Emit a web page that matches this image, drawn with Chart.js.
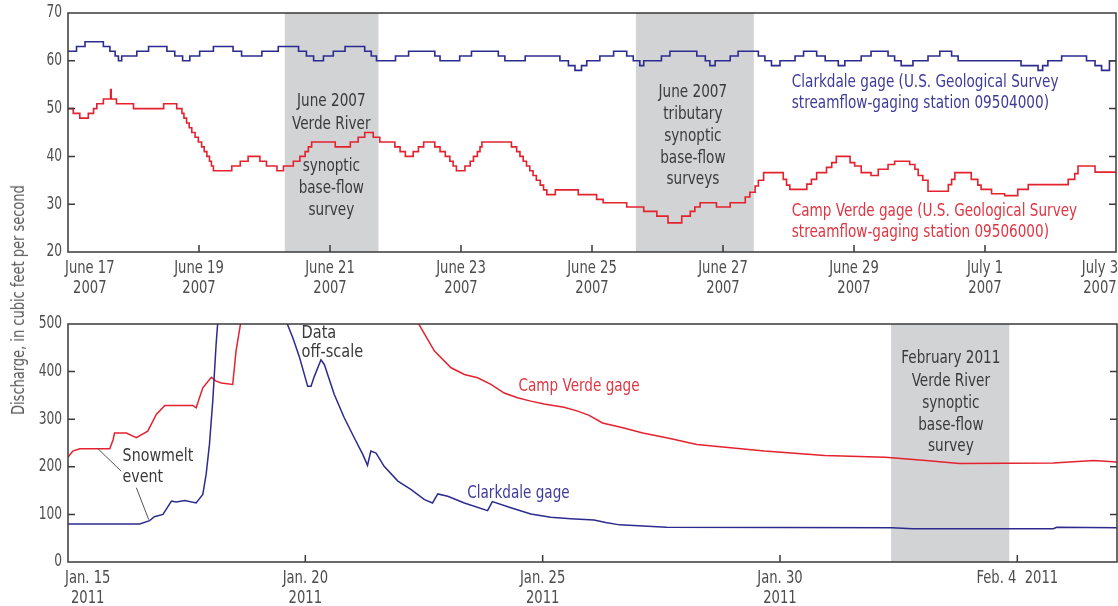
<!DOCTYPE html>
<html>
<head>
<meta charset="utf-8">
<script src="https://cdn.jsdelivr.net/npm/chart.js@4.4.0/dist/chart.umd.min.js"></script>
<style>
  body { margin: 0; background: #fff; }
  #wrap { position: relative; width: 1118px; height: 606px; }
  canvas { position: absolute; left: 0; }
  #ytitle {
    position: absolute; left: 18px; top: 300px;
    transform: translate(-50%, -50%) rotate(-90deg) scaleX(0.85);
    white-space: nowrap; color: #555;
    font: 17px "DejaVu Sans Condensed", sans-serif;
  }
</style>
</head>
<body>
<div id="wrap">
  <canvas id="top" width="1118" height="300" style="top:0"></canvas>
  <canvas id="bottom" width="1118" height="306" style="top:300px"></canvas>
  <div id="ytitle">Discharge, in cubic feet per second</div>
</div>
<script>
// days counted from June 17, 2007 00:00 (stepped gage record, cfs)
const clarkdale2007Day = [0,0.13,0.26,0.54,0.64,0.72,0.77,0.82,1.05,1.23,1.51,1.63,1.75,1.86,2.01,2.22,2.52,2.65,2.96,3.21,3.52,3.64,3.75,3.90,4.05,4.23,4.53,4.63,4.71,5.0,5.2,5.6,5.68,5.98,6.16,6.57,6.67,6.98,7.51,7.64,7.74,7.84,7.92,8.12,8.33,8.53,8.63,8.73,8.79,9.06,9.19,9.6,9.73,9.8,9.88,10.11,10.23,10.54,10.64,10.74,10.87,11.1,11.23,11.43,11.56,11.76,11.86,12.11,12.26,12.52,12.62,12.72,12.9,13.13,13.31,13.49,13.59,14.55,14.81,14.88,14.96,15.17,15.55,15.68,15.78,15.9,16.0];
const clarkdale2007Cfs = [62,63,64,63,62,61,60,61,62,63,62,61,60,61,62,63,62,61,62,63,62,61,60,61,62,63,62,61,60,61,62,61,60,61,62,61,60,61,60,59,58,59,60,61,62,61,60,59,60,61,62,61,60,59,60,61,62,61,60,59,60,61,62,61,60,59,60,61,62,61,60,59,60,61,62,61,60,59,58,59,60,61,60,59,58,60,60];

const campVerde2007Day = [0,0.08,0.18,0.31,0.39,0.44,0.54,0.65,0.66,0.74,1.0,1.46,1.66,1.74,1.77,1.81,1.85,1.89,1.94,1.99,2.04,2.08,2.12,2.16,2.19,2.22,2.5,2.63,2.75,2.93,3.03,3.19,3.29,3.44,3.54,3.62,3.67,3.72,4.08,4.31,4.43,4.53,4.66,4.76,4.99,5.07,5.15,5.27,5.35,5.43,5.6,5.68,5.76,5.83,5.88,5.93,6.06,6.14,6.19,6.25,6.29,6.32,6.77,6.85,6.9,6.95,7.0,7.05,7.1,7.15,7.21,7.26,7.31,7.44,7.79,8.07,8.17,8.53,8.79,8.99,9.16,9.37,9.5,9.57,9.65,9.9,10.11,10.34,10.41,10.49,10.54,10.62,10.92,10.97,11.02,11.28,11.35,11.43,11.58,11.66,11.73,11.94,12.01,12.11,12.26,12.37,12.52,12.62,12.85,12.93,12.98,13.05,13.13,13.44,13.49,13.54,13.79,13.89,13.94,14.1,14.3,14.5,14.66,15.27,15.37,15.42,15.68,16.0];
const campVerde2007Cfs = [50,49,48,49,50,51,52,54,52,51,50,51,50,49,48,47,46,45,44,43,42,41,40,39,38,37,38,39,40,39,38,37,38,39,40,41,42,43,42,43,44,45,44,43,42,41,40,41,42,43,42,41,40,39,38,37,38,39,40,41,42,43,42,41,40,39,38,37,36,35,34,33,32,33,32,31,30.3,29.4,28.5,27.5,26.1,27.5,28.5,29.4,30.3,29.4,30.3,31.5,32.5,33.8,35,36.6,35.2,34,33.1,34.2,35.2,36.6,37.7,38.7,40,38.7,38,36.6,36,37.3,38.3,39,38.3,37.3,36,35,32.7,34.1,35.2,36.6,35.2,34,33.1,32.2,31.8,33.1,34.1,35.2,36.4,38,36.7,36.7];

// days counted from Jan. 15, 2011 00:00 (peaks run off the top of the scale)
const clarkdale2011Day = [0,1.51,1.72,1.82,2.0,2.18,2.28,2.46,2.7,2.84,2.91,2.98,3.05,3.12,3.16,3.9,4.58,4.74,4.88,5.05,5.12,5.19,5.33,5.40,5.61,5.82,6.03,6.21,6.31,6.38,6.49,6.66,6.95,7.23,7.51,7.68,7.79,8.0,8.35,8.84,8.94,9.33,9.75,10.17,10.59,11.08,11.33,11.62,12.61,17.36,17.79,20.76,20.83,22.1];
const clarkdale2011Cfs = [80,80,87,95,100,128,126,129,124,142,184,247,338,457,510,1800,510,470,429,369,369,390,425,415,352,303,261,226,203,233,229,201,170,152,131,124,143,138,124,108,127,114,101,94,91,88,83,78,73,72,70,70,73,72];

const campVerde2011Day = [0,0.1,0.25,0.88,0.95,0.98,1.23,1.44,1.68,1.86,2.04,2.63,2.7,2.84,3.02,3.12,3.23,3.47,3.54,3.65,5.5,7.36,7.72,8.07,8.35,8.63,8.91,9.19,9.47,9.75,10.03,10.45,10.74,10.98,11.26,11.69,12.11,12.61,13.25,13.96,14.67,15.94,17.22,18.07,18.78,20.76,21.61,22.1];
const campVerde2011Cfs = [220,233,238,238,257,271,271,261,275,310,329,329,324,366,388,380,376,373,443,510,2500,505,443,408,394,387,373,355,345,338,332,325,317,308,292,282,271,261,247,240,233,224,220,213,207,208,213,210];

// survey periods (days) and axis ticks
const surveys2007 = [[3.31, 4.74], [8.67, 10.47]];
const surveys2011 = [[17.34, 19.83]];
const ticks2007Day = [0, 2, 4, 6, 8, 10, 12, 14, 16];
const ticks2007Label = [['June 17','2007'],['June 19','2007'],['June 21','2007'],['June 23','2007'],['June 25','2007'],['June 27','2007'],['June 29','2007'],['July 1','2007'],['July 3','2007']];
const ticks2011Day = [0, 5, 10, 15, 20];
const ticks2011Label = [['Jan. 15','2011'],['Jan. 20','2011'],['Jan. 25','2011'],['Jan. 30','2011'],['Feb. 4  2011']];

// only a condensed DejaVu is available, squeeze it a bit more to look like the original face
const FONT = '"DejaVu Sans Condensed", sans-serif';
const SQUEEZE = 0.84;
const BLUE = '#2d2b8e';
const RED = '#e3222e';
const BLUE_TXT = '#3d3b98';
const RED_TXT = '#e03542';
const NOTE = '#3a3a3a';
const TICK = '#4d4d4d';
const SHADE = '#d1d3d4';

// notes sit in data units of each panel
const notes2007 = [
  { t: 'June 2007', x: 4.02, y: 51.6, c: NOTE },
  { t: 'Verde River', x: 4.02, y: 46.8, c: NOTE },
  { t: 'synoptic', x: 4.02, y: 38.0, c: NOTE },
  { t: 'base-flow', x: 4.02, y: 33.4, c: NOTE },
  { t: 'survey', x: 4.02, y: 28.8, c: NOTE },
  { t: 'June 2007', x: 9.54, y: 53.3, c: NOTE },
  { t: 'tributary', x: 9.54, y: 48.7, c: NOTE },
  { t: 'synoptic', x: 9.54, y: 44.1, c: NOTE },
  { t: 'base-flow', x: 9.54, y: 39.7, c: NOTE },
  { t: 'surveys', x: 9.54, y: 35.1, c: NOTE },
  { t: 'Clarkdale gage (U.S. Geological Survey', x: 11.05, y: 55.4, c: BLUE_TXT, left: true },
  { t: 'streamflow-gaging station 09504000)', x: 11.05, y: 51.0, c: BLUE_TXT, left: true },
  { t: 'Camp Verde gage (U.S. Geological Survey', x: 11.05, y: 28.6, c: RED_TXT, left: true },
  { t: 'streamflow-gaging station 09506000)', x: 11.05, y: 24.2, c: RED_TXT, left: true }
];
const notes2011 = [
  { t: 'Data', x: 4.92, y: 479, c: NOTE, left: true, s: 17, k: 0.95 },
  { t: 'off-scale', x: 4.92, y: 439, c: NOTE, left: true, s: 17, k: 0.95 },
  { t: 'Snowmelt', x: 1.15, y: 223, c: NOTE, left: true, k: 0.88 },
  { t: 'event', x: 1.15, y: 177, c: NOTE, left: true, k: 0.88 },
  { t: 'Camp Verde gage', x: 9.49, y: 370, c: RED_TXT, left: true },
  { t: 'Clarkdale gage', x: 8.41, y: 145, c: BLUE_TXT, left: true },
  { t: 'February 2011', x: 18.6, y: 427, c: NOTE },
  { t: 'Verde River', x: 18.6, y: 380, c: NOTE },
  { t: 'synoptic', x: 18.6, y: 334, c: NOTE },
  { t: 'base-flow', x: 18.6, y: 288, c: NOTE },
  { t: 'survey', x: 18.6, y: 244, c: NOTE }
];
const leaders2011 = [[[0.63, 238], [1.12, 191]], [[1.44, 156], [1.70, 89]]];

function xy(days, vals) {
  return days.map((d, i) => ({ x: d, y: vals[i] }));
}

function squeezed(ctx, s, x, y, k) {
  ctx.fillText(s, x, y, ctx.measureText(s).width * k);
}

function decor(cfg) {
  return {
    id: 'decor',
    beforeDatasetsDraw(chart) {
      const { ctx, chartArea: a, scales: { x } } = chart;
      ctx.save();
      ctx.fillStyle = SHADE;
      cfg.shade.forEach(([s, e]) => {
        const x0 = x.getPixelForValue(s), x1 = x.getPixelForValue(e);
        ctx.fillRect(x0, a.top, x1 - x0, a.bottom - a.top);
      });
      ctx.restore();
    },
    afterDatasetsDraw(chart) {
      const { ctx, chartArea: a, scales: { x, y } } = chart;
      ctx.save();
      // frame
      ctx.strokeStyle = '#3a3a3a';
      ctx.lineWidth = 1.5;
      ctx.strokeRect(a.left, a.top, a.right - a.left, a.bottom - a.top);
      // inward ticks
      ctx.beginPath();
      cfg.ticks.forEach(v => {
        const px = x.getPixelForValue(v);
        if (px > a.left + 2 && px < a.right - 2) {
          ctx.moveTo(px, a.bottom); ctx.lineTo(px, a.bottom - 7);
        }
      });
      y.ticks.forEach(t => {
        if (t.value <= y.min || t.value >= y.max) return;
        const py = y.getPixelForValue(t.value);
        ctx.moveTo(a.left, py); ctx.lineTo(a.left + 7, py);
        ctx.moveTo(a.right, py); ctx.lineTo(a.right - 7, py);
      });
      ctx.stroke();
      // y tick labels
      ctx.font = '17px ' + FONT;
      ctx.fillStyle = TICK;
      ctx.textAlign = 'right';
      ctx.textBaseline = 'middle';
      y.ticks.forEach(t => squeezed(ctx, String(t.value), a.left - 6, y.getPixelForValue(t.value), 0.8));
      // x tick labels
      ctx.textAlign = 'center';
      ctx.textBaseline = 'top';
      cfg.ticks.forEach((v, i) => {
        const lines = cfg.labels[i];
        const w = Math.max(...lines.map(l => ctx.measureText(l).width)) * 0.86;
        let cx = x.getPixelForValue(v);
        cx = Math.max(cx, a.left - 3 + w / 2);
        cx = Math.min(cx, a.right + 2 - w / 2);
        lines.forEach((l, k) => squeezed(ctx, l, cx, a.bottom + 8 + k * 20, 0.86));
      });
      // leader lines
      ctx.strokeStyle = '#555';
      ctx.lineWidth = 1;
      (cfg.leaders || []).forEach(([p, q]) => {
        ctx.beginPath();
        ctx.moveTo(x.getPixelForValue(p[0]), y.getPixelForValue(p[1]));
        ctx.lineTo(x.getPixelForValue(q[0]), y.getPixelForValue(q[1]));
        ctx.stroke();
      });
      // notes
      ctx.textBaseline = 'middle';
      cfg.notes.forEach(n => {
        ctx.font = (n.s || 18) + 'px ' + FONT;
        ctx.fillStyle = n.c;
        ctx.textAlign = n.left ? 'left' : 'center';
        squeezed(ctx, n.t, x.getPixelForValue(n.x), y.getPixelForValue(n.y), n.k || SQUEEZE);
      });
      ctx.restore();
    }
  };
}

function panel(id, datasets, xMax, yMin, yMax, yStep, padTop, xAxisH, padRight, deco) {
  return new Chart(document.getElementById(id), {
    type: 'line',
    data: { datasets },
    options: {
      responsive: false,
      animation: false,
      layout: { padding: { top: padTop, right: padRight, left: 0, bottom: 0 } },
      plugins: { legend: { display: false }, tooltip: { enabled: false } },
      elements: { point: { radius: 0 }, line: { tension: 0 } },
      scales: {
        x: {
          type: 'linear', min: 0, max: xMax,
          grid: { display: false, drawTicks: false }, border: { display: false },
          ticks: { display: false },
          afterFit: s => { s.height = xAxisH; }
        },
        y: {
          min: yMin, max: yMax,
          grid: { display: false, drawTicks: false }, border: { display: false },
          ticks: { display: false, stepSize: yStep },
          afterFit: s => { s.width = 68; }
        }
      }
    },
    plugins: [deco]
  });
}

panel('top', [
  { data: xy(clarkdale2007Day, clarkdale2007Cfs), borderColor: BLUE, borderWidth: 1.6, stepped: true },
  { data: xy(campVerde2007Day, campVerde2007Cfs), borderColor: RED, borderWidth: 1.6, stepped: true }
], 16, 20, 70, 10, 13, 48, 2,
  decor({ shade: surveys2007, ticks: ticks2007Day, labels: ticks2007Label, notes: notes2007 }));

panel('bottom', [
  { data: xy(clarkdale2011Day, clarkdale2011Cfs), borderColor: BLUE, borderWidth: 1.5 },
  { data: xy(campVerde2011Day, campVerde2011Cfs), borderColor: RED, borderWidth: 1.5 }
], 22.1, 0, 500, 100, 24, 44, 1,
  decor({ shade: surveys2011, ticks: ticks2011Day, labels: ticks2011Label, notes: notes2011, leaders: leaders2011 }));
</script>
</body>
</html>
